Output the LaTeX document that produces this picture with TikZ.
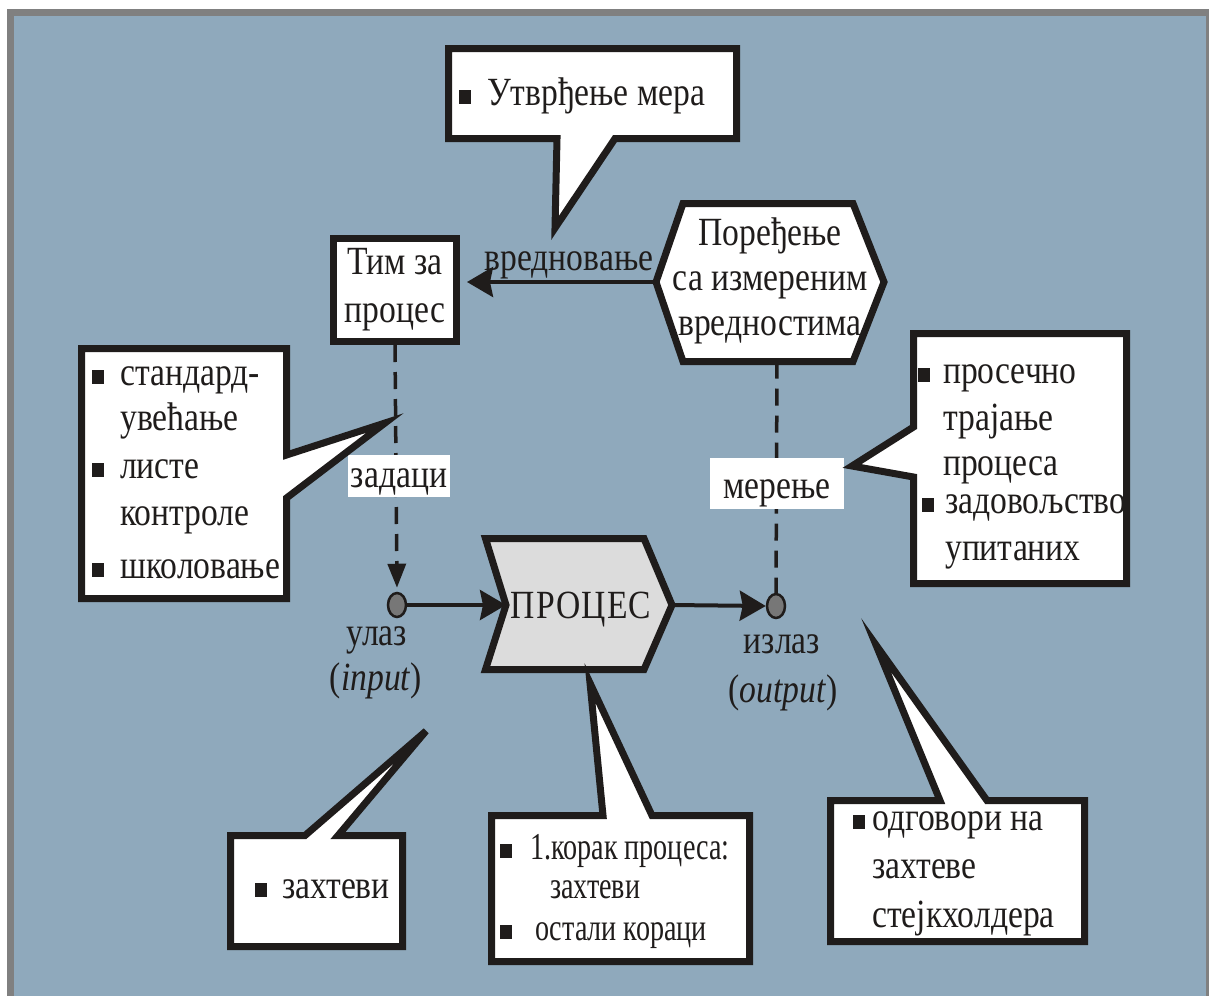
\documentclass[tikz,border=0pt]{standalone}
\usepackage{fontspec}
\setmainfont{Liberation Serif}[FakeStretch=0.84]
\newfontfamily\narrowfont{Liberation Serif}[FakeStretch=0.74]
\usetikzlibrary{arrows.meta,shapes.geometric}
\definecolor{bgblue}{HTML}{8FA9BC}
\definecolor{framegray}{HTML}{808080}
\definecolor{ink}{HTML}{1F1C1B}
\definecolor{procfill}{HTML}{DCDCDC}
\definecolor{dotfill}{HTML}{777777}
% square list bullet
\newcommand\blt{\textcolor{ink}{\rule[1pt]{12pt}{14pt}}}
\newcommand\itm[1]{\makebox[#1][l]{\blt}}

\begin{document}
\begin{tikzpicture}[x=1pt,y=-1pt,
  every node/.style={text=ink},
  txt/.style={inner sep=0pt, anchor=base west, font=\fontsize{40}{46}\selectfont},
  ctxt/.style={inner sep=0pt, anchor=base, font=\fontsize{40}{46}\selectfont},
  ntxt/.style={inner sep=0pt, anchor=base west, font=\narrowfont\fontsize{38}{44}\selectfont},
  callout/.style={fill=white, draw=ink, line width=7pt, line join=miter},
  shapeline/.style={draw=ink, line width=7pt, line join=miter},
  flow/.style={draw=ink, line width=4pt, -{Stealth[length=26pt,width=30pt,inset=3pt]}},
  dashflow/.style={draw=ink, line width=3.5pt, dash pattern=on 17pt off 10pt},
  tag/.style={fill=white, inner sep=0pt, anchor=base, font=\fontsize{40}{46}\selectfont},
  dot/.style={ellipse, draw=ink, fill=dotfill, line width=2.5pt,
    minimum width=18pt, minimum height=24pt, inner sep=0pt}
]
% page, frame and background
\useasboundingbox (0,0) rectangle (1209,996);
\fill[white] (0,0) rectangle (1209,996);
\fill[framegray] (7,9) rectangle (1209,996);
\fill[bgblue] (14,16) rectangle (1206,996);

% team box
\node[draw=ink, line width=7pt, fill=white, minimum width=123pt, minimum height=103pt,
  inner sep=0pt, align=center, font=\fontsize{40}{48}\selectfont] (team) at (395,290) {Тим за\\процес};

% comparison hexagon
\draw[shapeline, fill=white] (683,203.5) -- (853,203.5) -- (884,282) -- (853,361.5)
  -- (683,361.5) -- (656,282) -- cycle;
\coordinate (hexW) at (656,282);
\coordinate (hexS) at (777,361.5);
\node[inner sep=0pt, align=center, font=\fontsize{40}{45}\selectfont] (cmp) at (770,281)
  {Поређење\\са измереним\\вредностима};

% process chevron
\draw[shapeline, fill=procfill] (485.5,538.5) -- (644,538.5) -- (672,605) -- (644,669.5)
  -- (485.5,669.5) -- (506,605) -- cycle;
\coordinate (procW) at (506,605);
\coordinate (procE) at (672,605);
\node[ctxt] (proc) at (581,618) {\addfontfeature{LetterSpace=3}ПРОЦЕС};

% input / output points
\node[dot] (inDot) at (397,605) {};
\node[dot] (outDot) at (776,606) {};
\node[ctxt] (inLbl) at (377,645) {улаз};
\node[ctxt] (inEn) at (376,690) {(\textit{input})};
\node[ctxt] (outLbl) at (782,653) {излаз};
\node[ctxt] (outEn) at (783,702) {(\textit{output})};

% flows
\draw[flow, shorten >=7pt] (hexW) -- (team.east |- hexW);
\node[ctxt] (evalLbl) at (569,270) {вредновање};
\draw[flow] (inDot.east) -- (procW);
\draw[flow] (procE) -- (outDot.west);
\draw[dashflow, -{Triangle[length=24pt,width=18pt]}, shorten >=4pt] (team.south) -- (inDot.north);
\draw[dashflow] (hexS) -- (outDot.north);
\node[tag, minimum width=102pt, text height=32pt, text depth=10pt] (tasks) at (399,487) {задаци};
\node[tag, minimum width=134pt, text height=40pt, text depth=11pt] (meas) at (777,498) {мерење};

% callout: fixing the measures
\draw[callout] (448.5,48.5) -- (736.5,48.5) -- (736.5,138.5) -- (615,138.5) -- (555,228)
  -- (557,138.5) -- (448.5,138.5) -- cycle;
\node[txt] (c1) at (459,105) {\itm{28pt}Утврђење мера};

% callout: team tasks
\draw[callout] (81.5,348.5) -- (286.5,348.5) -- (286.5,455) -- (385,423) -- (286.5,498)
  -- (286.5,598.5) -- (81.5,598.5) -- cycle;
\node[txt] (l1) at (92,385) {\itm{28pt}стандард-};
\node[txt] (l2) at (120,430) {увећање};
\node[txt] (l3) at (92,478) {\itm{28pt}листе};
\node[txt] (l4) at (120,525) {контроле};
\node[txt] (l5) at (92,578) {\itm{28pt}школовање};

% callout: measured values
\draw[callout] (913.5,333.5) -- (1126.5,333.5) -- (1126.5,583.5) -- (913.5,583.5)
  -- (913.5,477) -- (852,466) -- (913.5,427) -- cycle;
\node[txt] (r1) at (918,383) {\itm{25pt}просечно};
\node[txt] (r2) at (943,430) {трајање};
\node[txt] (r3) at (943,475) {процеса};
\node[txt] (r4) at (922,513) {\itm{23pt}задовољство};
\node[txt] (r5) at (945,560) {упитаних};

% callout: requirements
\draw[callout] (230.5,835.5) -- (305,835.5) -- (426,731) -- (338,835.5) -- (402.5,835.5)
  -- (402.5,946.5) -- (230.5,946.5) -- cycle;
\node[txt] (q1) at (255,898) {\itm{27pt}захтеви};

% callout: process steps
\draw[callout] (491.5,815.5) -- (603,815.5) -- (590,683) -- (652,815.5) -- (749.5,815.5)
  -- (749.5,961.5) -- (491.5,961.5) -- cycle;
\node[ntxt] (s1) at (500,859) {\itm{30pt}1.корак процеса:};
\node[ntxt] (s2) at (550,898) {захтеви};
\node[ntxt] (s3) at (500,940) {\itm{35pt}остали кораци};

% callout: stakeholder answers
\draw[callout] (830.5,800.5) -- (940,800.5) -- (876,645) -- (987,800.5) -- (1084.5,800.5)
  -- (1084.5,941.5) -- (830.5,941.5) -- cycle;
\node[txt] (a1) at (853,830) {\itm{19pt}одговори на};
\node[txt] (a2) at (872,878) {захтеве};
\node[txt] (a3) at (872,927) {стејкхолдера};
\end{tikzpicture}
\end{document}
